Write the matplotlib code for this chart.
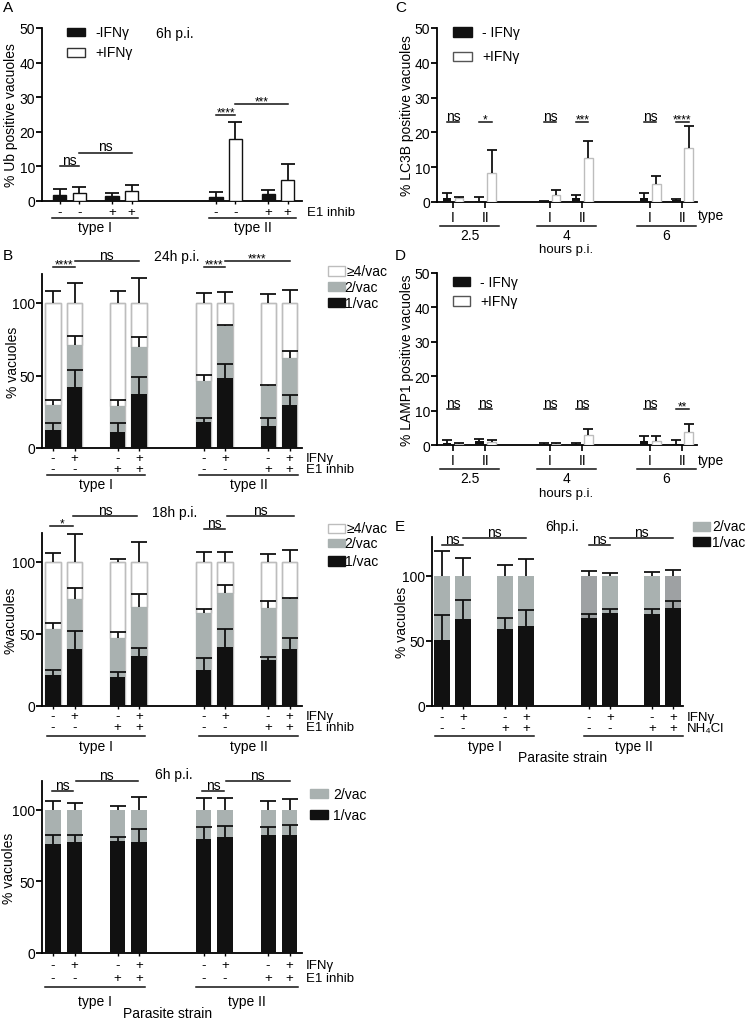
import numpy as np
import matplotlib
matplotlib.use('Agg')
import matplotlib.pyplot as plt
from matplotlib.patches import Rectangle
from matplotlib.transforms import blended_transform_factory

# ---- data ----
# A: % Ub positive vacuoles, 6h p.i.  order: typeI(-/-, +/-, -/+, +/+), typeII(same)
a_ifn = ['-', '+', '-', '+', '-', '+', '-', '+']
a_e1 = ['-', '-', '+', '+', '-', '-', '+', '+']
a_ub = [1.8, 2.4, 1.4, 2.8, 1.3, 18.0, 2.1, 6.2]
a_ub_err = [1.7, 1.6, 1.0, 1.9, 1.3, 4.8, 1.2, 4.4]

# B: % vacuoles by number of parasites per vacuole
b_ifn = ['-', '+', '-', '+', '-', '+', '-', '+']
b_e1 = ['-', '-', '+', '+', '-', '-', '+', '+']
b24_one = [12.5, 41.8, 11.3, 37.0, 18.0, 48.0, 15.0, 29.8]
b24_one_err = [4.5, 12.0, 6.0, 12.0, 2.8, 9.7, 6.0, 6.9]
b24_two = [17.0, 28.9, 17.7, 33.0, 28.0, 35.8, 28.0, 32.6]
b24_two_err = [3.5, 6.3, 3.8, 6.4, 4.6, 1.2, 0.7, 4.6]
b24_four = [70.5, 29.3, 71.0, 30.0, 54.0, 16.2, 57.0, 37.6]
b24_four_err = [8.0, 14.0, 8.3, 17.5, 7.0, 7.5, 6.5, 8.8]

b18_one = [21.2, 39.6, 19.8, 35.0, 25.0, 41.2, 31.6, 39.6]
b18_one_err = [3.5, 12.7, 3.7, 5.5, 8.4, 12.0, 2.4, 7.6]
b18_two = [32.3, 34.6, 27.2, 34.0, 39.3, 37.1, 36.4, 34.6]
b18_two_err = [3.9, 7.6, 4.0, 8.4, 3.0, 5.7, 5.0, 0.5]
b18_four = [46.5, 25.8, 53.0, 31.0, 35.7, 21.7, 32.0, 25.8]
b18_four_err = [6.0, 19.0, 2.0, 14.0, 7.0, 7.0, 5.3, 8.3]

b6_one = [76.0, 77.3, 78.2, 77.7, 79.6, 80.7, 82.4, 82.0]
b6_one_err = [6.4, 4.7, 2.5, 8.8, 8.1, 8.2, 5.8, 7.3]
b6_two = [24.0, 22.7, 21.8, 22.3, 20.4, 19.3, 17.6, 18.0]
b6_two_err = [6.0, 4.6, 2.8, 9.0, 7.9, 7.9, 6.0, 7.4]

# C / D: hours p.i. 2.5, 4, 6
hours = ['2.5', '4', '6']
c_noifn_I = [1.25, 0.2, 1.2]
c_noifn_I_err = [1.35, 0.2, 1.5]
c_ifn_I = [1.06, 2.0, 5.2]
c_ifn_I_err = [0.45, 1.5, 2.2]
c_noifn_II = [0.4, 1.2, 0.6]
c_noifn_II_err = [1.1, 0.9, 0.2]
c_ifn_II = [8.4, 12.7, 15.4]
c_ifn_II_err = [6.5, 4.9, 6.4]

d_noifn_I = [0.5, 0.3, 1.25]
d_noifn_I_err = [0.9, 0.4, 1.35]
d_ifn_I = [0.2, 0.2, 1.05]
d_ifn_I_err = [0.5, 0.3, 1.45]
d_noifn_II = [1.1, 0.2, 0.4]
d_noifn_II_err = [0.5, 0.3, 1.1]
d_ifn_II = [1.0, 2.8, 3.9]
d_ifn_II_err = [0.35, 1.9, 2.3]

# E: 6h p.i. with NH4Cl
e_ifn = ['-', '+', '-', '+', '-', '+', '-', '+']
e_nh4 = ['-', '-', '+', '+', '-', '-', '+', '+']
e_one = [51.0, 67.2, 59.5, 61.5, 67.4, 71.8, 71.0, 75.6]
e_one_err = [19.0, 14.3, 8.5, 12.5, 3.6, 2.6, 3.4, 5.2]
e_two = [49.0, 32.8, 40.5, 38.5, 32.6, 28.2, 29.0, 24.4]
e_two_err = [19.0, 14.0, 8.5, 12.8, 3.8, 2.6, 3.3, 5.0]

# ---- figure ----
plt.rcParams['font.family'] = ['Liberation Sans', 'DejaVu Sans']

W, H = 745, 1020
fig = plt.figure(figsize=(W / 100, H / 100), dpi=100)
FS = 10
RS = 9.5  # rows of +/- under the bars
BLACK = '#111111'
GREY = '#a9b1b0'
EDGE = '#bdbdbd'
boxes = {}


def add_ax(x0, ytop, x1, ybot):
    ax = fig.add_axes([x0 / W, 1 - ybot / H, (x1 - x0) / W, (ybot - ytop) / H])
    boxes[ax] = (x0, x1)
    return ax


def fy(ypx):
    return 1 - ypx / H


def style(ax, xlim, ylim, yticks, ylabel, lab_x, xt=None):
    ax.set_xlim(*xlim)
    ax.set_ylim(*ylim)
    for s in ['top', 'right']:
        ax.spines[s].set_visible(False)
    for s in ['left', 'bottom']:
        ax.spines[s].set_linewidth(1.3)
    ax.set_yticks(yticks)
    ax.tick_params(axis='y', direction='out', length=4, width=1.3, labelsize=FS, pad=1)
    ax.tick_params(axis='x', direction='out', length=2.5, width=1.0, labelsize=FS)
    ax.set_xticks([] if xt is None else xt)
    ax.set_xticklabels([])
    ax.set_ylabel(ylabel, fontsize=FS)
    x0, x1 = boxes[ax]
    ax.yaxis.set_label_coords((lab_x - x0) / (x1 - x0), 0.5)
    ax.patch.set_visible(False)


def up_err(ax, x, top, err, cap=5.5):
    eb = ax.errorbar(x, top, yerr=[np.zeros(len(err)), err], fmt='none', ecolor=BLACK,
                     elinewidth=1.3, capsize=cap, capthick=1.3, zorder=4)
    eb[1][0].set_visible(False)
    for c in list(eb[1]) + list(eb[2]):
        c.set_clip_on(False)


def sig(ax, x1, x2, y, label):
    ax.plot([x1, x2], [y, y], color=BLACK, lw=1.1, clip_on=False)
    if '*' in label:
        ax.annotate(label, ((x1 + x2) / 2, y), xytext=(0, -0.5), textcoords='offset points',
                    ha='center', va='baseline', fontsize=8.5, annotation_clip=False)
    else:
        ax.annotate(label, ((x1 + x2) / 2, y), xytext=(0, 1.5), textcoords='offset points',
                    ha='center', va='baseline', fontsize=FS, annotation_clip=False)


def sign_row(ax, xs, signs, ypx):
    tr = blended_transform_factory(ax.transData, fig.transFigure)
    for x, s in zip(xs, signs):
        ax.text(x, fy(ypx), s, transform=tr, ha='center', va='center', fontsize=RS, clip_on=False)


def group_line(ax, x0, x1, ypx, label=None, lab_y=None):
    tr = blended_transform_factory(ax.transData, fig.transFigure)
    ax.plot([x0, x1], [fy(ypx)] * 2, transform=tr, color=BLACK, lw=1.1, clip_on=False)
    if label is not None:
        ax.text((x0 + x1) / 2, fy(lab_y), label, transform=tr, ha='center', va='center',
                fontsize=FS, clip_on=False)


def legbox(x0, y0, x1, y1, fc, ec=None):
    fig.add_artist(Rectangle((x0 / W, fy(y1)), (x1 - x0) / W, (y1 - y0) / H, facecolor=fc,
                             edgecolor=ec if ec else fc, lw=1.0, transform=fig.transFigure))


def ftext(x, y, s, ha='left', fs=FS, **kw):
    fig.text(x / W, fy(y), s, ha=ha, va='center', fontsize=fs, **kw)


# ---------------- panel A ----------------
xa = [0, 1, 2.67, 3.67, 8, 9, 10.67, 11.67]
axA = add_ax(42, 29, 302, 202)
style(axA, (-0.92, 12.41), (0, 50), range(0, 51, 10), '% Ub positive vacuoles', 18, xt=xa)
for x, v, f in zip(xa, a_ub, a_ifn):
    axA.bar(x, v, width=0.67, color=BLACK if f == '-' else 'white',
            edgecolor=BLACK, lw=1.0, zorder=3)
up_err(axA, xa, a_ub, a_ub_err, cap=5)
sig(axA, xa[0], xa[1], 10, 'ns')
sig(axA, xa[1], xa[3], 14, 'ns')
sig(axA, xa[4], xa[5], 25, '****')
sig(axA, xa[5], xa[7], 28, '***')
sign_row(axA, xa, a_e1, 213)
ftext(307, 213, 'E1 inhib', fs=RS)
group_line(axA, -0.41, 4.0, 219, 'type I', 228)
group_line(axA, 7.64, 12.1, 219, 'type II', 228)
ftext(3, 8, 'A', fs=11)
legbox(67, 29, 85, 37, BLACK)
legbox(67, 49, 85, 58, 'white', '#333333')
ftext(95, 33, '-IFNγ')
ftext(95, 53, '+IFNγ')
ftext(156, 34, '6h p.i.')

# ---------------- panel B ----------------
xb = [0, 1, 3, 4, 7, 8, 10, 11]


def stacked(ax, one, one_err, two, two_err, four=None, four_err=None):
    one = np.array(one)
    two = np.array(two)
    ax.bar(xb, one, width=0.7, color=BLACK, zorder=3)
    ax.bar(xb, two, bottom=one, width=0.7, color=GREY, zorder=3)
    if four is not None:
        ax.bar(xb, four, bottom=one + two, width=0.7, color='white', edgecolor=EDGE,
               lw=1.0, zorder=2)
        ax.bar(xb, np.array(four) + one + two, width=0.7, color='none', edgecolor=EDGE,
               lw=1.0, zorder=2)
        up_err(ax, xb, one + two + np.array(four), four_err)
    up_err(ax, xb, one, one_err)
    up_err(ax, xb, one + two, two_err)


# 24h
axB1 = add_ax(42, 275, 302, 449)
style(axB1, (-0.512, 11.58), (0, 120), [0, 50, 100], '% vacuoles', 20, xt=xb)
stacked(axB1, b24_one, b24_one_err, b24_two, b24_two_err, b24_four, b24_four_err)
sig(axB1, xb[0], xb[1], 125, '****')
sig(axB1, xb[1], xb[3], 129, 'ns')
sig(axB1, xb[4], xb[5], 125, '****')
sig(axB1, xb[5], xb[7], 129, '****')
sign_row(axB1, xb, b_ifn, 459)
sign_row(axB1, xb, b_e1, 470)
ftext(306, 459, 'IFNγ', fs=RS)
ftext(306, 470, 'E1 inhib', fs=RS)
group_line(axB1, -0.28, 4.28, 476, 'type I', 485)
group_line(axB1, 6.79, 11.4, 476, 'type II', 485)
ftext(3, 256, 'B', fs=11)
ftext(154, 257, '24h p.i.')
legbox(328, 267, 345, 277, 'white', EDGE)
legbox(328, 283, 345, 292, GREY)
legbox(328, 299, 345, 308, BLACK)
ftext(347, 272, '≥4/vac')
ftext(378, 288, '2/vac', ha='right')
ftext(378, 304, '1/vac', ha='right')

# 18h
axB2 = add_ax(42, 534, 302, 707)
style(axB2, (-0.512, 11.58), (0, 120), [0, 50, 100], '%vacuoles', 18, xt=xb)
stacked(axB2, b18_one, b18_one_err, b18_two, b18_two_err, b18_four, b18_four_err)
sig(axB2, xb[0] - 0.15, xb[1] - 0.05, 125, '*')
sig(axB2, xb[1] - 0.05, xb[3] - 0.1, 132, 'ns')
sig(axB2, xb[4], xb[5], 123, 'ns')
sig(axB2, xb[5] + 0.1, xb[7] + 0.2, 132, 'ns')
sign_row(axB2, xb, b_ifn, 717)
sign_row(axB2, xb, b_e1, 728)
ftext(306, 717, 'IFNγ', fs=RS)
ftext(306, 728, 'E1 inhib', fs=RS)
group_line(axB2, -0.28, 4.28, 737, 'type I', 747)
group_line(axB2, 6.79, 11.4, 737, 'type II', 747)
ftext(152, 513, '18h p.i.')
legbox(328, 525, 345, 534, 'white', EDGE)
legbox(328, 540, 345, 548, GREY)
legbox(328, 557, 345, 567, BLACK)
ftext(347, 529, '≥4/vac')
ftext(378, 544, '2/vac', ha='right')
ftext(378, 562, '1/vac', ha='right')

# 6h
axB3 = add_ax(42, 782, 302, 954)
style(axB3, (-0.512, 11.58), (0, 120), [0, 50, 100], '% vacuoles', 16, xt=xb)
stacked(axB3, b6_one, b6_one_err, b6_two, b6_two_err)
sig(axB3, xb[0] - 0.05, xb[1] - 0.05, 113, 'ns')
sig(axB3, xb[1] + 0.05, xb[3] - 0.05, 120, 'ns')
sig(axB3, xb[4] - 0.05, xb[5] - 0.05, 113, 'ns')
sig(axB3, xb[5] + 0.05, xb[7], 120, 'ns')
sign_row(axB3, xb, b_ifn, 966)
sign_row(axB3, xb, b_e1, 979)
ftext(306, 966, 'IFNγ', fs=RS)
ftext(306, 979, 'E1 inhib', fs=RS)
group_line(axB3, -0.37, 4.28, 988, 'type I', 1002)
group_line(axB3, 6.65, 11.4, 988, 'type II', 1002)
ftext(168, 1014, 'Parasite strain', ha='center')
ftext(155, 775, '6h p.i.')
legbox(310, 790, 328, 799, GREY)
legbox(310, 811, 328, 820, BLACK)
ftext(333, 795, '2/vac')
ftext(333, 816, '1/vac')

# ---------------- panels C and D ----------------
bases = np.array([0, 3, 6.1])
x_noI, x_ifI, x_noII, x_ifII = bases, bases + 0.38, bases + 1.0, bases + 1.38
type_ticks = np.concatenate([bases + 0.19, bases + 1.19])
type_labels = ['I'] * 3 + ['II'] * 3


def timecourse(ax, noI, noI_e, ifI, ifI_e, noII, noII_e, ifII, ifII_e):
    for xs, v in [(x_noI, noI), (x_noII, noII)]:
        ax.bar(xs, v, width=0.26, color=BLACK, zorder=3)
    for xs, v in [(x_ifI, ifI), (x_ifII, ifII)]:
        ax.bar(xs, v, width=0.26, color='white', edgecolor=EDGE, lw=1.0, zorder=3)
    for xs, v, e in [(x_noI, noI, noI_e), (x_ifI, ifI, ifI_e),
                     (x_noII, noII, noII_e), (x_ifII, ifII, ifII_e)]:
        up_err(ax, xs, v, e, cap=3.5)
    ax.set_xticks(type_ticks)
    ax.set_xticklabels(type_labels)
    ax.tick_params(axis='x', length=4, width=1.2, pad=2)


def hours_rows(ax, line_y, lab_y, hp_y, type_y):
    for b, h in zip(bases, hours):
        group_line(ax, b - 0.22, b + 1.61, line_y, h, lab_y)
    tr = blended_transform_factory(ax.transData, fig.transFigure)
    ax.text(bases[1] + 0.69, fy(hp_y), 'hours p.i.', transform=tr, ha='center',
            va='center', fontsize=9.5)
    ftext(698, type_y, 'type')


axC = add_ax(437, 29, 697, 203)
style(axC, (-0.31, 7.74), (0, 50), range(0, 51, 10), '% LC3B positive vacuoles', 414)
timecourse(axC, c_noifn_I, c_noifn_I_err, c_ifn_I, c_ifn_I_err,
           c_noifn_II, c_noifn_II_err, c_ifn_II, c_ifn_II_err)
c_sig = [['ns', '*'], ['ns', '***'], ['ns', '****']]
for b, labs in zip(bases, c_sig):
    sig(axC, b, b + 0.38, 23, labs[0])
    sig(axC, b + 1.0, b + 1.38, 23, labs[1])
hours_rows(axC, 227, 236, 250, 216)
ftext(395, 8, 'C', fs=11)
legbox(453, 28, 472, 38, BLACK)
legbox(453, 53, 472, 62, 'white', '#555555')
ftext(482, 33, '- IFNγ')
ftext(482, 57, '+IFNγ')

axD = add_ax(437, 274, 697, 446)
style(axD, (-0.31, 7.74), (0, 50), range(0, 51, 10), '% LAMP1 positive vacuoles', 414)
timecourse(axD, d_noifn_I, d_noifn_I_err, d_ifn_I, d_ifn_I_err,
           d_noifn_II, d_noifn_II_err, d_ifn_II, d_ifn_II_err)
d_sig = [['ns', 'ns'], ['ns', 'ns'], ['ns', '**']]
for b, labs in zip(bases, d_sig):
    sig(axD, b, b + 0.38, 10.4, labs[0])
    sig(axD, b + 1.0, b + 1.38, 10.4, labs[1])
hours_rows(axD, 470, 479, 494, 461)
ftext(395, 256, 'D', fs=11)
legbox(453, 278, 470, 287, BLACK)
legbox(453, 297, 470, 307, 'white', '#555555')
ftext(480, 283, '- IFNγ')
ftext(480, 302, '+IFNγ')

# ---------------- panel E ----------------
xe = [0, 1, 3, 4, 7, 8, 10, 11]
axE = add_ax(432, 538, 683, 707)
style(axE, (-0.476, 11.476), (0, 130), [0, 50, 100], '% vacuoles', 409, xt=xe)
e_grey = [GREY, GREY, GREY, GREY, '#9ea1a3', GREY, GREY, '#9ea1a3']
axE.bar(xe, e_one, width=0.72, color=BLACK, zorder=3)
axE.bar(xe, e_two, bottom=e_one, width=0.72, color=e_grey, zorder=3)
up_err(axE, xe, e_one, e_one_err)
up_err(axE, xe, np.array(e_one) + np.array(e_two), e_two_err)
sig(axE, xe[0], xe[1], 124, 'ns')
sig(axE, xe[1], xe[3], 129, 'ns')
sig(axE, xe[4], xe[5], 124, 'ns')
sig(axE, xe[5], xe[7], 129, 'ns')
sign_row(axE, xe, e_ifn, 718)
sign_row(axE, xe, e_nh4, 729)
ftext(687, 718, 'IFNγ', fs=RS)
ftext(687, 729, 'NH₄Cl', fs=RS)
group_line(axE, -0.33, 4.38, 737, 'type I', 747)
group_line(axE, 6.76, 11.48, 737, 'type II', 747)
ftext(563, 758, 'Parasite strain', ha='center')
ftext(395, 527, 'E', fs=11)
ftext(545, 527, '6hp.i.')
legbox(693, 523, 710, 532, GREY)
legbox(693, 538, 710, 547, BLACK)
ftext(712, 527, '2/vac')
ftext(712, 543, '1/vac')

fig.savefig('out.png', dpi=100)
